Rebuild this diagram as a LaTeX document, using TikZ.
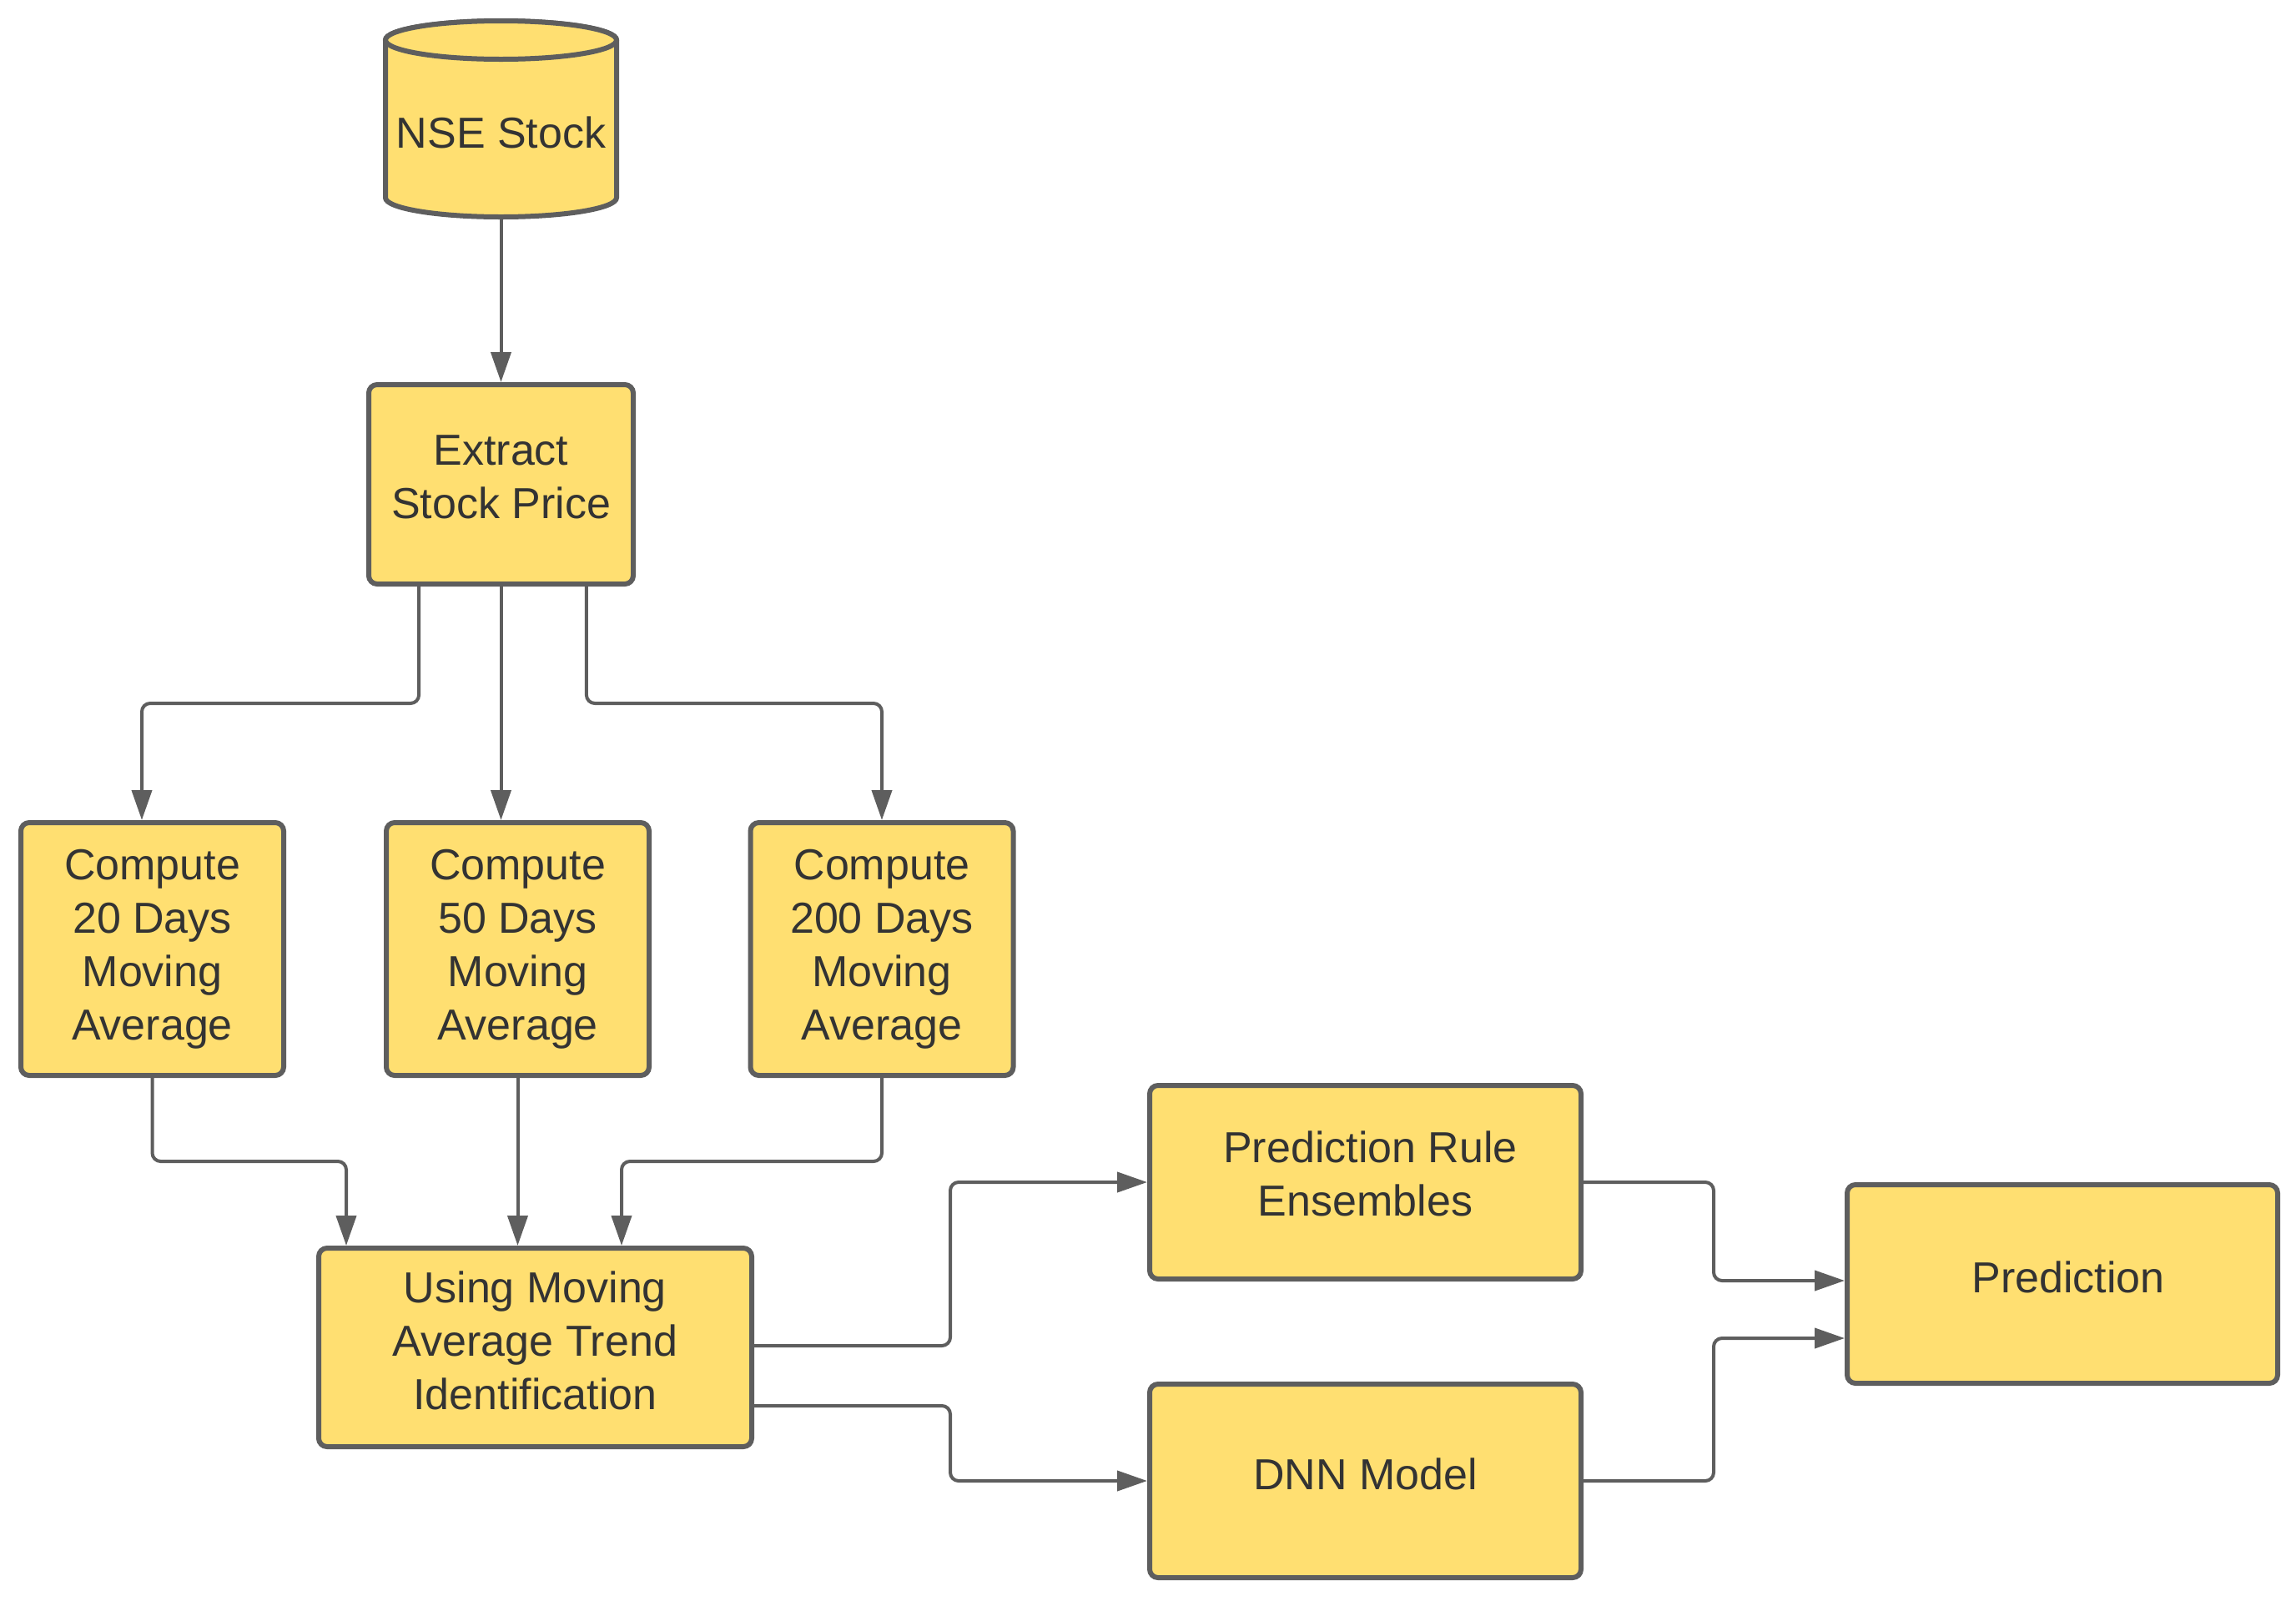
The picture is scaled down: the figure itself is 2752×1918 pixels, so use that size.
\documentclass[tikz,border=0pt]{standalone}
\usepackage{fontspec}
\setmainfont{Liberation Sans}
\usetikzlibrary{arrows.meta}
\definecolor{yel}{HTML}{FFDF71}
\definecolor{strk}{HTML}{5E5E5E}
\definecolor{txt}{HTML}{333333}
\tikzset{
  box/.style={draw=strk, fill=yel, line width=1.5pt, rounded corners=2.5pt,
    text=txt, align=center, inner sep=0pt,
    font=\fontsize{13pt}{16pt}\selectfont},
  lbl/.style={text=txt, align=center, inner sep=0pt,
    font=\fontsize{13pt}{16pt}\selectfont},
  conn/.style={draw=strk, line width=1pt, rounded corners=2.5pt,
    -{Triangle[length=9pt, width=6pt]}},
}
\begin{document}
\begin{tikzpicture}[x=0.25pt, y=-0.25pt]
\useasboundingbox (0,0) rectangle (2752,1918);

% cylinder
\path[draw=strk, fill=yel, line width=1.5pt]
  (462,48) -- (462,237) arc[start angle=180, end angle=360, x radius=34.625pt, y radius=5.75pt]
  -- (739,48) arc[start angle=0, end angle=180, x radius=34.625pt, y radius=5.75pt] -- cycle;
\draw[strk, fill=yel, line width=1.5pt] (600.5,48) ellipse [x radius=34.625pt, y radius=5.75pt];
\node[minimum width=70.75pt, minimum height=60.25pt, inner sep=0pt, outer sep=0pt] (nse) at (600.5,142.5) {};
\node[lbl] (nselabel) at (600.5,159) {NSE Stock};

\node[box, minimum width=79.25pt, minimum height=59.75pt, text depth=4.6pt] (extract) at (600.5,580.5) {Extract\\Stock Price};

\node[box, minimum width=78.75pt, minimum height=75.75pt] (c20) at (182.5,1137.5) {Compute\\20 Days\\Moving\\Average};
\node[box, minimum width=78.75pt, minimum height=75.75pt] (c50) at (620.5,1137.5) {Compute\\50 Days\\Moving\\Average};
\node[box, minimum width=78.75pt, minimum height=75.75pt] (c200) at (1057,1137.5) {Compute\\200 Days\\Moving\\Average};

\node[box, minimum width=129.75pt, minimum height=59.5pt, text depth=4.4pt] (using) at (641.5,1615) {Using Moving\\Average Trend\\Identification};

\node[box, minimum width=129.25pt, minimum height=58pt, text depth=5.4pt] (pre) at (1636.5,1417) {\hspace*{3pt}Prediction Rule\\Ensembles};
\node[box, minimum width=129.25pt, minimum height=58pt, text depth=4.4pt] (dnn) at (1636.5,1775) {DNN Model};
\node[box, minimum width=129pt, minimum height=59.5pt, text depth=4.4pt] (pred) at (2472,1539) {\hspace*{3.5pt}Prediction};

\coordinate (j1) at (170,843);
\coordinate (j2) at (1057,843);
\coordinate (j3) at (415,1392);
\coordinate (j4) at (745,1392);
\coordinate (j5) at (1139,1500);
\coordinate (j6) at (1139,1730);
\coordinate (j7) at (2054,1480);
\coordinate (j8) at (2054,1700);

\draw[conn] (nse.south) -- (extract.north);
\draw[conn] ([xshift=-24.6pt]extract.south) |- (j1) -- (j1 |- c20.north);
\draw[conn] (extract.south) -- (extract.south |- c50.north);
\draw[conn] ([xshift=25.6pt]extract.south) |- (j2) -- (j2 |- c200.north);
\draw[conn] (c20.south) |- (j3) -- (j3 |- using.north);
\draw[conn] (c50.south) -- (c50.south |- using.north);
\draw[conn] (c200.south) |- (j4) -- (j4 |- using.north);
\draw[conn] ([yshift=0.5pt]using.east) -| (j5) |- (pre.west);
\draw[conn] ([yshift=-17.5pt]using.east) -| (j6) |- (dnn.west);
\draw[conn] (pre.east) -| (j7) |- ([yshift=1pt]pred.west);
\draw[conn] (dnn.east) -| (j8) |- ([yshift=-16.25pt]pred.west);
\end{tikzpicture}
\end{document}
